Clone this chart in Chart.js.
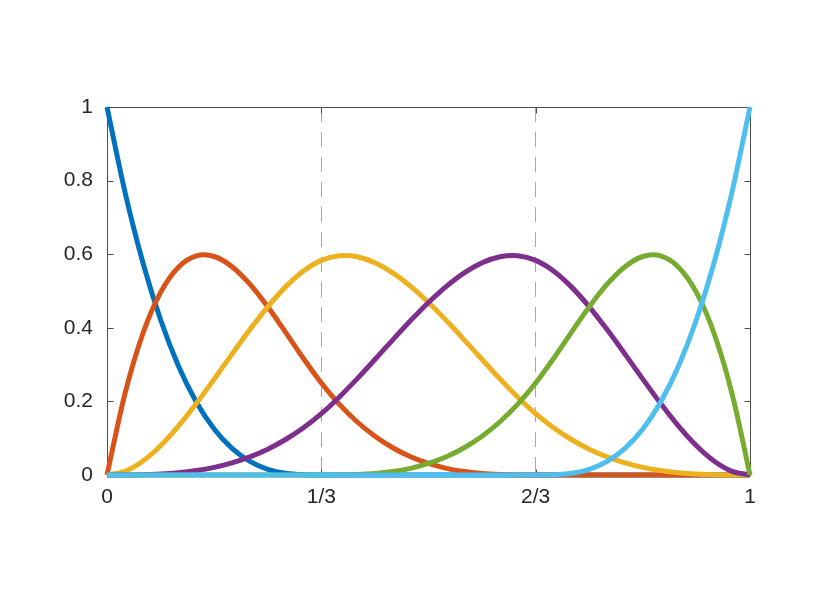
<!DOCTYPE html>
<html>
<head>
<meta charset="utf-8">
<script src="https://cdn.jsdelivr.net/npm/chart.js@4.4.1/dist/chart.umd.min.js"></script>
<style>
  body { margin: 0; background: #ffffff; }
  #wrap { width: 830px; height: 602px; }
</style>
</head>
<body>
<div id="wrap"><canvas id="basis"></canvas></div>
<script>
// sample positions (x = k/36)
var xs = [0, 1/36, 2/36, 3/36, 4/36, 5/36, 6/36, 7/36, 8/36, 9/36, 10/36, 11/36, 12/36,
          13/36, 14/36, 15/36, 16/36, 17/36, 18/36, 19/36, 20/36, 21/36, 22/36, 23/36, 24/36,
          25/36, 26/36, 27/36, 28/36, 29/36, 30/36, 31/36, 32/36, 33/36, 34/36, 35/36, 1];

var b0 = [1, 0.7703, 0.5787, 0.4219, 0.2963, 0.1985, 0.125, 0.0723, 0.0370, 0.0156, 0.0046, 0.0006, 0,
          0, 0, 0, 0, 0, 0, 0, 0, 0, 0, 0, 0,
          0, 0, 0, 0, 0, 0, 0, 0, 0, 0, 0, 0];
var b1 = [0, 0.2198, 0.3831, 0.4961, 0.5648, 0.5953, 0.5938, 0.5661, 0.5185, 0.4570, 0.3877, 0.3167, 0.25,
          0.1926, 0.1447, 0.1055, 0.0741, 0.0496, 0.0313, 0.0181, 0.0093, 0.0039, 0.0012, 0.0001, 0,
          0, 0, 0, 0, 0, 0, 0, 0, 0, 0, 0, 0];
var b2 = [0, 0.0099, 0.0374, 0.0794, 0.1327, 0.1941, 0.2604, 0.3285, 0.3951, 0.4570, 0.5112, 0.5544, 0.5833,
          0.5958, 0.5930, 0.5768, 0.5494, 0.5127, 0.4688, 0.4196, 0.3673, 0.3138, 0.2612, 0.2115, 0.1667,
          0.1284, 0.0965, 0.0703, 0.0494, 0.0331, 0.0208, 0.0121, 0.0062, 0.0026, 0.0008, 0.0001, 0];
var b3 = [0, 0.0001, 0.0008, 0.0026, 0.0062, 0.0121, 0.0208, 0.0331, 0.0494, 0.0703, 0.0965, 0.1284,
          0.1667, 0.2115, 0.2612, 0.3138, 0.3673, 0.4196, 0.4688, 0.5127, 0.5494, 0.5768, 0.5930, 0.5958,
          0.5833, 0.5544, 0.5112, 0.4570, 0.3951, 0.3285, 0.2604, 0.1941, 0.1327, 0.0794, 0.0374, 0.0099, 0];
var b4 = [0, 0, 0, 0, 0, 0, 0, 0, 0, 0, 0, 0,
          0, 0.0001, 0.0012, 0.0039, 0.0093, 0.0181, 0.0313, 0.0496, 0.0741, 0.1055, 0.1447, 0.1926,
          0.25, 0.3167, 0.3877, 0.4570, 0.5185, 0.5661, 0.5938, 0.5953, 0.5648, 0.4961, 0.3831, 0.2198, 0];
var b5 = [0, 0, 0, 0, 0, 0, 0, 0, 0, 0, 0, 0,
          0, 0, 0, 0, 0, 0, 0, 0, 0, 0, 0, 0,
          0, 0.0006, 0.0046, 0.0156, 0.0370, 0.0723, 0.125, 0.1985, 0.2963, 0.4219, 0.5787, 0.7703, 1];

var xTicks = [0, 1/3, 2/3, 1];
var xLabels = ["0", "1/3", "2/3", "1"];
var yLabels = ["0", "0.2", "0.4", "0.6", "0.8", "1"];

var colors = ["#0072BD", "#D95319", "#EDB120", "#7E2F8E", "#77AC30", "#4DBEEE"];

function points(ys) {
  return ys.map(function (y, i) { return { x: xs[i], y: y }; });
}

// axes box with inward tick marks, matlab style
var frame = {
  id: "frame",
  beforeDatasetsDraw: function (chart) {
    var ctx = chart.ctx;
    var a = chart.chartArea;
    var l = Math.round(a.left) + 0.5, r = Math.round(a.right) + 0.5;
    var t = Math.round(a.top) + 0.5, b = Math.round(a.bottom) + 0.5;
    ctx.save();
    ctx.strokeStyle = "#4d4d4d";
    ctx.lineWidth = 1;
    ctx.strokeRect(l, t, r - l, b - t);
    ctx.beginPath();
    chart.scales.y.ticks.forEach(function (tk) {
      var py = Math.round(chart.scales.y.getPixelForValue(tk.value)) + 0.5;
      ctx.moveTo(l, py); ctx.lineTo(l + 6, py);
      ctx.moveTo(r, py); ctx.lineTo(r - 6, py);
    });
    chart.scales.x.ticks.forEach(function (tk) {
      var px = Math.round(chart.scales.x.getPixelForValue(tk.value)) + 0.5;
      ctx.moveTo(px, b); ctx.lineTo(px, b - 6);
      ctx.moveTo(px, t); ctx.lineTo(px, t + 6);
    });
    ctx.stroke();
    ctx.restore();
  }
};

Chart.defaults.font.family = "Liberation Sans";
Chart.defaults.font.size = 21;
Chart.defaults.color = "#262626";

var series = [b0, b1, b2, b3, b4, b5];
var config = {
  type: "line",
  data: {
    datasets: series.map(function (ys, i) {
      return {
        data: points(ys),
        borderColor: colors[i],
        borderWidth: 5,
        pointRadius: 0,
        tension: 0.3,
        fill: false,
        clip: false,
        order: series.length - i // later curves sit on top
      };
    })
  },
  options: {
    responsive: true,
    maintainAspectRatio: false,
    animation: false,
    layout: { padding: { left: 0, top: 107, right: 80, bottom: 77 } },
    plugins: { legend: { display: false }, tooltip: { enabled: false } },
    scales: {
      x: {
        type: "linear",
        min: 0,
        max: 1,
        afterBuildTicks: function (s) {
          s.ticks = xTicks.map(function (v) { return { value: v }; });
        },
        afterFit: function (s) { s.height = 50; },
        ticks: {
          autoSkip: false,
          maxRotation: 0,
          padding: 10,
          callback: function (v, i) { return xLabels[i]; }
        },
        grid: {
          drawTicks: false,
          lineWidth: 1,
          color: function (c) {
            return (c.index === 0 || c.index === xTicks.length - 1) ? "rgba(0,0,0,0)" : "#a6a6a6";
          }
        },
        border: { display: false, dash: [15, 10] }
      },
      y: {
        min: 0,
        max: 1,
        afterFit: function (s) { s.width = 107; },
        ticks: {
          stepSize: 0.2,
          padding: 14,
          callback: function (v, i) { return yLabels[i]; }
        },
        grid: { display: false, drawTicks: false },
        border: { display: false }
      }
    }
  },
  plugins: [frame]
};

var canvas = document.getElementById("basis");
canvas.chart = new Chart(canvas.getContext("2d"), config);
</script>
</body>
</html>
